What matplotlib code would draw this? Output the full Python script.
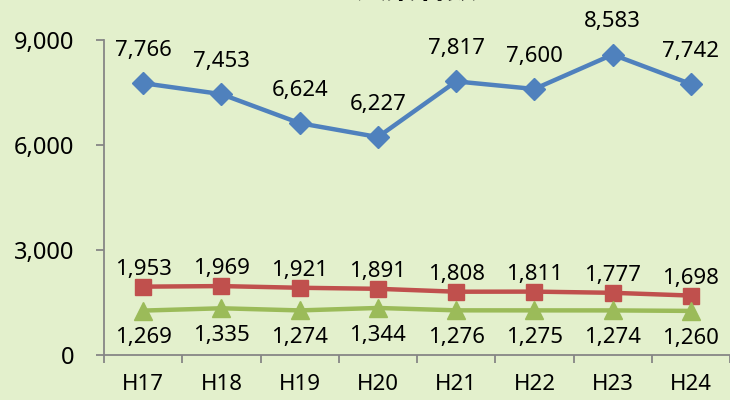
import matplotlib
matplotlib.use('Agg')
import matplotlib.pyplot as plt
from matplotlib.ticker import FuncFormatter

plt.rcParams['font.family'] = ['Noto Sans', 'Noto Sans CJK JP', 'DejaVu Sans']

years = ['H17', 'H18', 'H19', 'H20', 'H21', 'H22', 'H23', 'H24']
total = [7766, 7453, 6624, 6227, 7817, 7600, 8583, 7742]
series_b = [1953, 1969, 1921, 1891, 1808, 1811, 1777, 1698]
series_c = [1269, 1335, 1274, 1344, 1276, 1275, 1274, 1260]

bg = '#E3F0CC'
fig = plt.figure(figsize=(7.3, 4.0), dpi=100, facecolor=bg)
ax = fig.add_axes([0.1425, 0.1125, 0.8575, 0.7875])
ax.set_facecolor(bg)

x = list(range(len(years)))
ax.plot(x, total, color='#4F81BD', lw=3.2, marker='D', ms=11, clip_on=False)
ax.plot(x, series_b, color='#C0504D', lw=3.2, marker='s', ms=12, clip_on=False)
ax.plot(x, series_c, color='#9BBB59', lw=3.2, marker='^', ms=13, clip_on=False)

fs = 16
for i in x:
    ax.annotate(f'{total[i]:,}', (i, total[i]), xytext=(0, 16), textcoords='offset points',
                ha='center', va='bottom', fontsize=fs)
    ax.annotate(f'{series_b[i]:,}', (i, series_b[i]), xytext=(0, 5), textcoords='offset points',
                ha='center', va='bottom', fontsize=fs)
    ax.annotate(f'{series_c[i]:,}', (i, series_c[i]), xytext=(0, -12), textcoords='offset points',
                ha='center', va='top', fontsize=fs)

ax.set_xlim(-0.5, len(years) - 0.5)
ax.set_ylim(0, 9000)
ax.set_yticks([0, 3000, 6000, 9000])
ax.yaxis.set_major_formatter(FuncFormatter(lambda v, p: f'{int(v):,}'))
ax.set_xticks(x)
ax.set_xticklabels(years)
ax.set_xticks([i - 0.5 for i in range(len(years) + 1)], minor=True)
ax.tick_params(axis='x', which='major', length=0, pad=14, labelsize=fs)
ax.tick_params(axis='x', which='minor', length=5.5, color='#868686', width=1.3)
ax.tick_params(axis='y', length=5.5, color='#868686', width=1.3, labelsize=17, pad=16)

for s in ['top', 'right']:
    ax.spines[s].set_visible(False)
for s in ['left', 'bottom']:
    ax.spines[s].set_color('#868686')
    ax.spines[s].set_linewidth(1.3)

# title mostly cut off at the top edge in the original
fig.text(0.57, 1.028, '失業者数', ha='center', va='center', fontsize=22, fontweight='bold',
         family=['Noto Sans CJK JP'])

fig.savefig('out.png', dpi=100, facecolor=bg)
